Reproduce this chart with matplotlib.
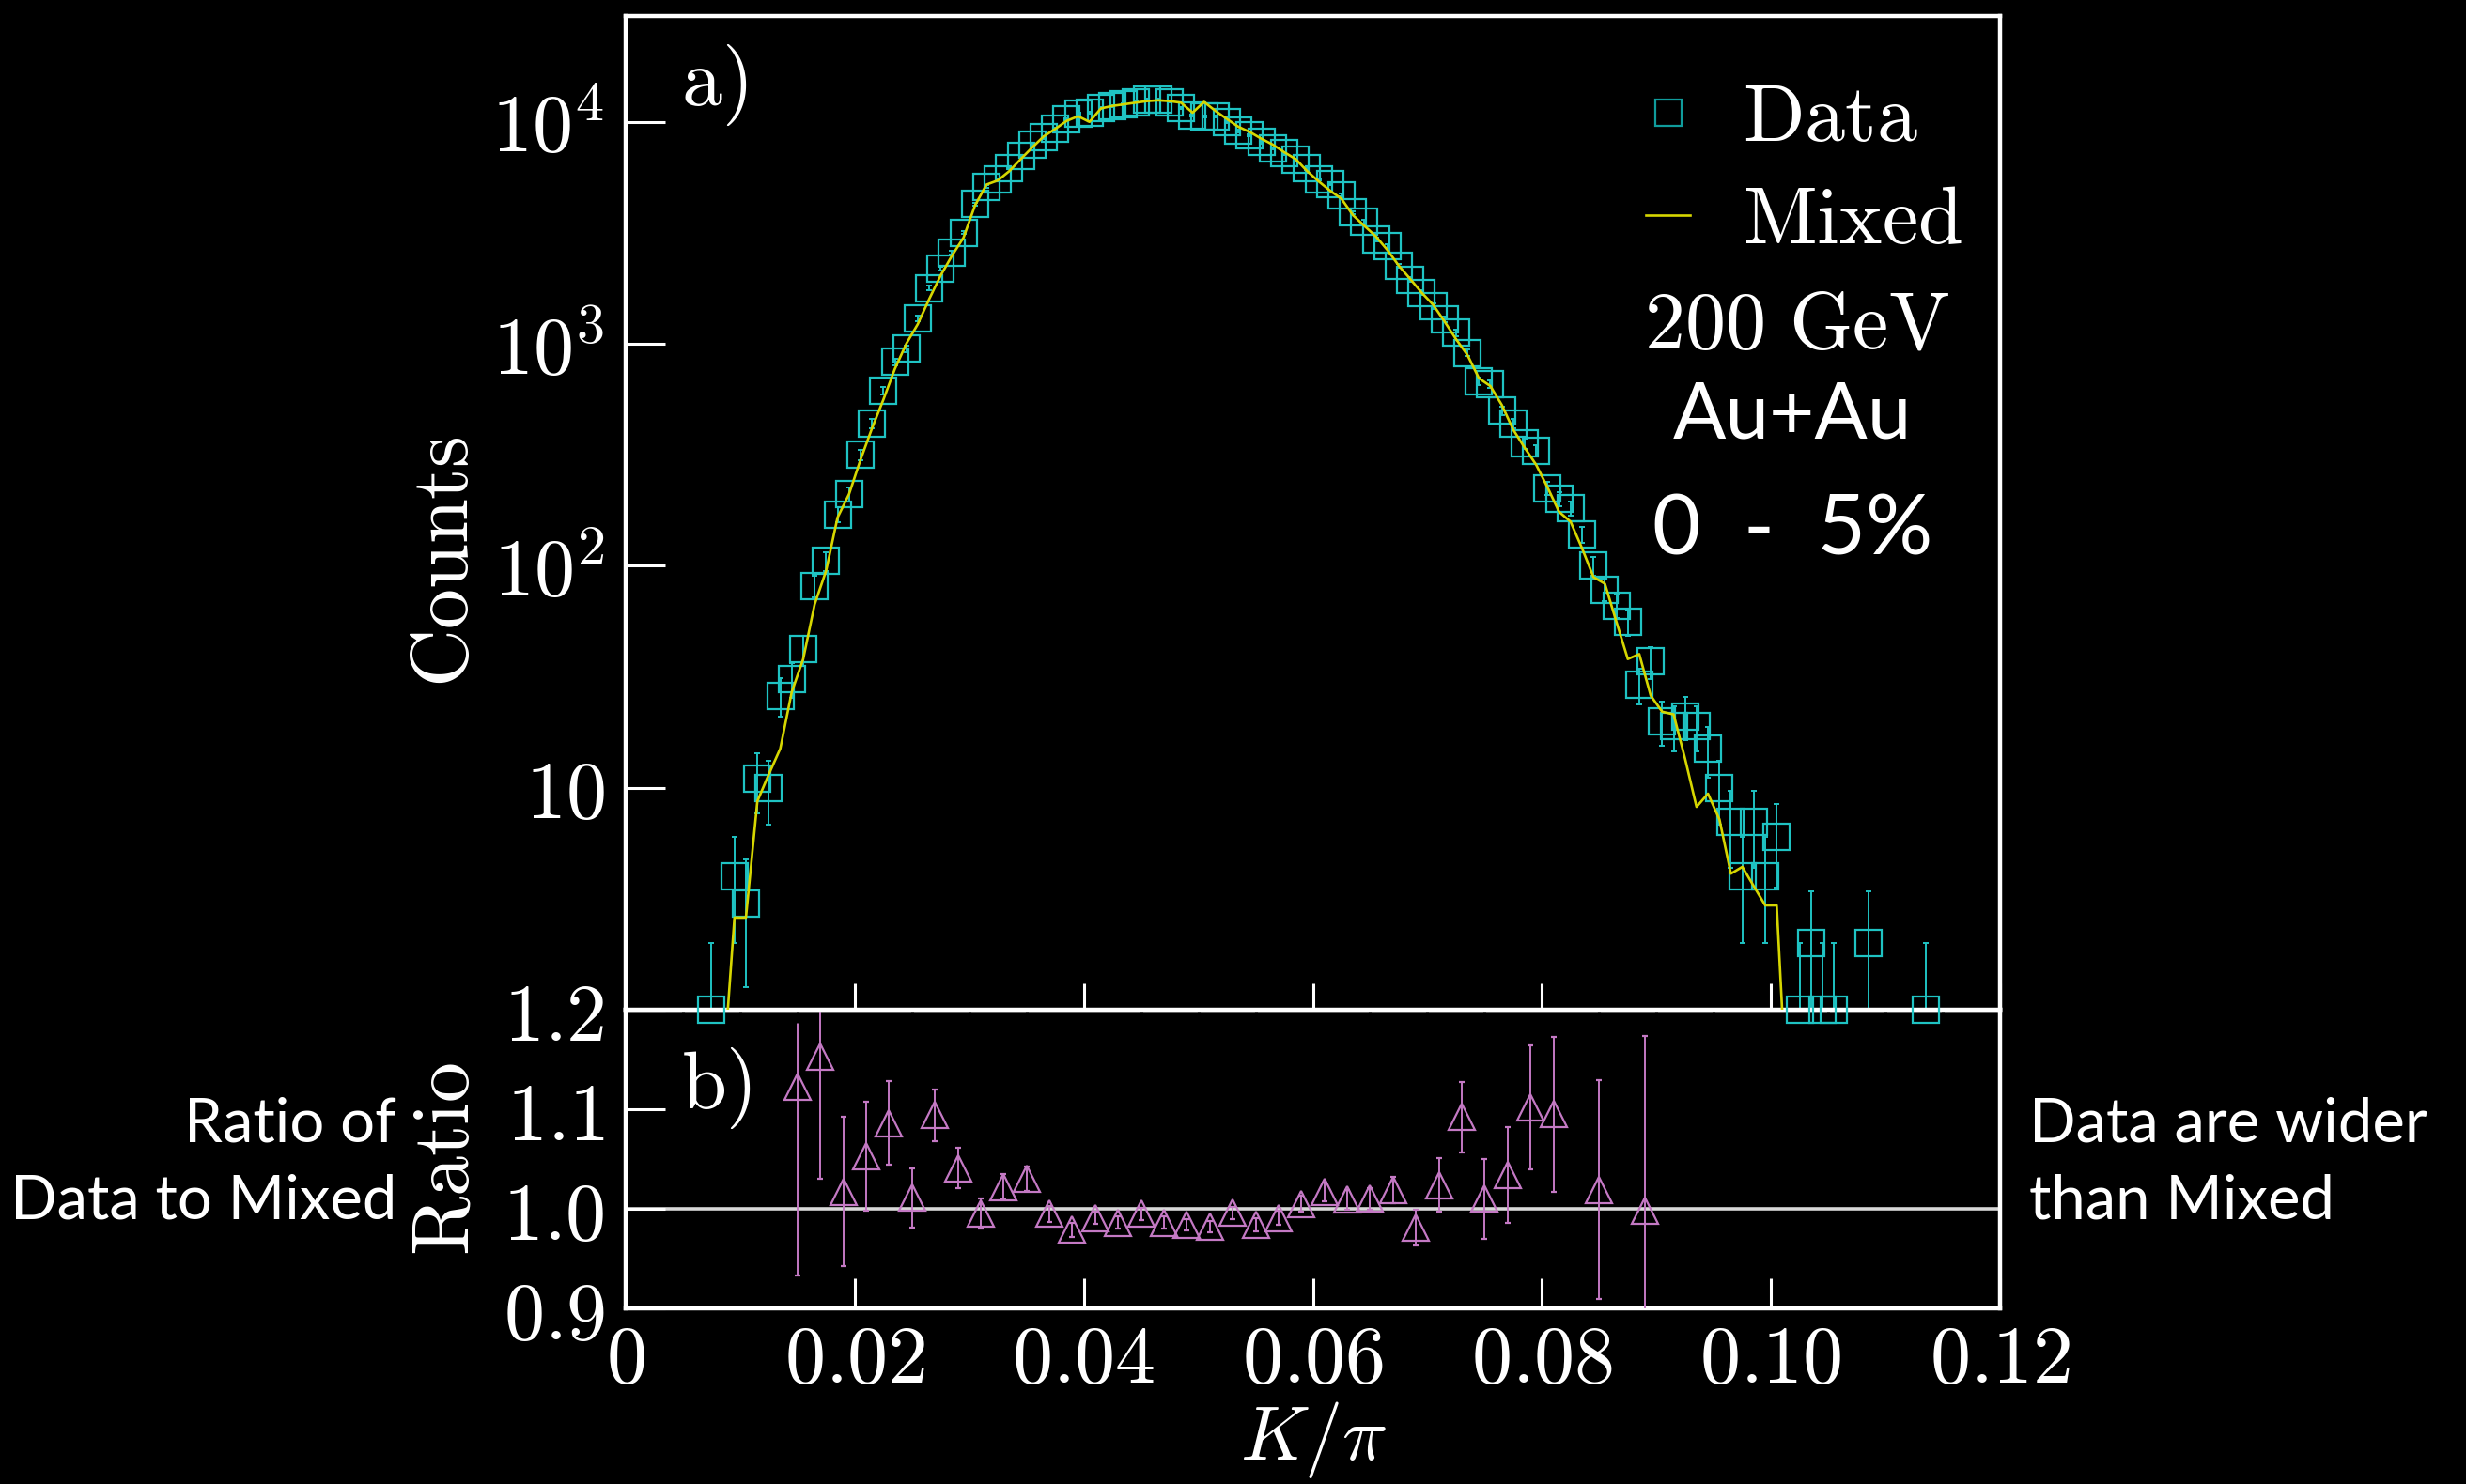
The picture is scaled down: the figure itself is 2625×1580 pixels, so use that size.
import numpy as np
import matplotlib
matplotlib.use('Agg')
import matplotlib.pyplot as plt
from matplotlib.lines import Line2D
from matplotlib.ticker import FixedLocator, FuncFormatter, NullFormatter

plt.rcParams['mathtext.fontset'] = 'cm'

# ---- data ----
kpi_data = [0.0075, 0.0095, 0.0105, 0.0115, 0.0125, 0.0135, 0.0145, 0.0155, 0.0165, 0.0175,
            0.0185, 0.0195, 0.0205, 0.0215, 0.0225, 0.0235, 0.0245, 0.0255, 0.0265, 0.0275,
            0.0285, 0.0295, 0.0305, 0.0315, 0.0325, 0.0335, 0.0345, 0.0355, 0.0365, 0.0375,
            0.0385, 0.0395, 0.0405, 0.0415, 0.0425, 0.0435, 0.0445, 0.0455, 0.0465, 0.0475,
            0.0485, 0.0495, 0.0505, 0.0515, 0.0525, 0.0535, 0.0545, 0.0555, 0.0565, 0.0575,
            0.0585, 0.0595, 0.0605, 0.0615, 0.0625, 0.0635, 0.0645, 0.0655, 0.0665, 0.0675,
            0.0685, 0.0695, 0.0705, 0.0715, 0.0725, 0.0735, 0.0745, 0.0755, 0.0765, 0.0775,
            0.0785, 0.0795, 0.0805, 0.0815, 0.0825, 0.0835, 0.0845, 0.0855, 0.0865, 0.0875,
            0.0885, 0.0895, 0.0905, 0.0915, 0.0925, 0.0935, 0.0945, 0.0955, 0.0965, 0.0975,
            0.0985, 0.0995, 0.1005, 0.1025, 0.1035, 0.1045, 0.1055, 0.1085, 0.1135]
counts_data = [1, 4, 3, 11, 10, 26, 31, 42, 81, 105,
               170, 210, 316, 437, 615, 830, 950, 1300, 1780, 2180,
               2570, 3170, 4270, 5100, 5500, 6200, 7000, 7900, 8500, 9300,
               10300, 10900, 11000, 11500, 11750, 12000, 12300, 12600, 12600, 12300,
               11500, 10700, 10600, 10600, 10000, 9100, 8700, 8100, 7600, 7200,
               6760, 6170, 5500, 5250, 4680, 3900, 3550, 2950, 2750, 2240,
               1950, 1700, 1480, 1290, 1120, 912, 676, 660, 500, 436,
               355, 330, 224, 200, 182, 138, 100, 78, 66, 56,
               29, 37, 20, 19, 21, 19, 15, 10, 7, 4,
               7, 4, 6, 1, 2, 1, 1, 2, 1]

kpi_mixed = [0.0085, 0.0095, 0.0105, 0.0115, 0.0125, 0.0135, 0.0145, 0.0155, 0.0165, 0.0175,
             0.0185, 0.0195, 0.0205, 0.0215, 0.0225, 0.0235, 0.0245, 0.0255, 0.0265, 0.0275,
             0.0285, 0.0295, 0.0305, 0.0315, 0.0325, 0.0335, 0.0345, 0.0355, 0.0365, 0.0375,
             0.0385, 0.0395, 0.0405, 0.0415, 0.0425, 0.0435, 0.0445, 0.0455, 0.0465, 0.0475,
             0.0485, 0.0495, 0.0505, 0.0515, 0.0525, 0.0535, 0.0545, 0.0555, 0.0565, 0.0575,
             0.0585, 0.0595, 0.0605, 0.0615, 0.0625, 0.0635, 0.0645, 0.0655, 0.0665, 0.0675,
             0.0685, 0.0695, 0.0705, 0.0715, 0.0725, 0.0735, 0.0745, 0.0755, 0.0765, 0.0775,
             0.0785, 0.0795, 0.0805, 0.0815, 0.0825, 0.0835, 0.0845, 0.0855, 0.0865, 0.0875,
             0.0885, 0.0895, 0.0905, 0.0915, 0.0925, 0.0935, 0.0945, 0.0955, 0.0965, 0.0975,
             0.0985, 0.0995, 0.1005, 0.1015]
counts_mixed = [0.5, 2.6, 2.6, 8.7, 11.5, 15, 27, 38, 67, 95,
                165, 210, 300, 415, 560, 770, 1000, 1225, 1590, 2030,
                2500, 3010, 4200, 5215, 5450, 6000, 6800, 7670, 8600, 9290,
                10100, 10600, 10000, 11500, 11800, 12000, 12200, 12400, 12500, 12400,
                12200, 11000, 12300, 11200, 10300, 9500, 9000, 8400, 7900, 7300,
                6800, 6000, 5400, 4900, 4500, 3800, 3400, 3050, 2650, 2250,
                1960, 1700, 1500, 1260, 1050, 890, 700, 645, 530, 410,
                340, 285, 225, 175, 158, 120, 89, 83, 56, 38,
                40, 26, 22, 21.4, 13.5, 8.2, 9.4, 7.2, 4.1, 4.4,
                3.6, 2.95, 2.95, 0.3]

kpi_ratio = [0.015, 0.017, 0.019, 0.021, 0.023, 0.025, 0.027, 0.029, 0.031, 0.033,
             0.035, 0.037, 0.039, 0.041, 0.043, 0.045, 0.047, 0.049, 0.051, 0.053,
             0.055, 0.057, 0.059, 0.061, 0.063, 0.065, 0.067, 0.069, 0.071, 0.073,
             0.075, 0.077, 0.079, 0.081, 0.085, 0.089]
ratio = [1.123, 1.153, 1.017, 1.053, 1.086, 1.011, 1.094, 1.041, 0.995, 1.022,
         1.030, 0.995, 0.979, 0.991, 0.986, 0.995, 0.986, 0.984, 0.982, 0.996,
         0.984, 0.991, 1.005, 1.017, 1.009, 1.010, 1.019, 0.981, 1.024, 1.092,
         1.010, 1.034, 1.102, 1.095, 1.019, 0.998]
ratio_err = [0.19, 0.123, 0.075, 0.055, 0.042, 0.03, 0.026, 0.02, 0.015, 0.013,
             0.012, 0.008, 0.007, 0.006, 0.006, 0.006, 0.006, 0.006, 0.006, 0.006,
             0.007, 0.007, 0.008, 0.009, 0.01, 0.011, 0.013, 0.018, 0.027, 0.035,
             0.04, 0.048, 0.062, 0.078, 0.11, 0.176]

count_ticks = [1, 10, 100, 1000, 10000]
count_labels = ['', r'$10$', r'$10^2$', r'$10^3$', r'$10^4$']
ratio_ticks = [0.9, 1.0, 1.1, 1.2]

# ---- style ----
CYAN = '#1fc3c3'
CYAN_LEG = '#109c9c'
YELLOW = '#d6d600'
VIOLET = '#c479c4'
FS = 62

fig = plt.figure(figsize=(26.25, 15.8), dpi=100, facecolor='black')
W, H = 2625.0, 1580.0
def frac_box(x0, y0, x1, y1):
    return [x0 / W, 1 - y1 / H, (x1 - x0) / W, (y1 - y0) / H]

ax_r = fig.add_axes(frac_box(666, 1075, 2129, 1393))
ax = fig.add_axes(frac_box(666, 17, 2129, 1075), sharex=ax_r)
ax.set_zorder(3)

for a in (ax, ax_r):
    a.set_facecolor('black')
    for s in a.spines.values():
        s.set_color('white')
        s.set_linewidth(3.2)
    a.tick_params(colors='white', direction='in', width=2.2, labelsize=FS)

# top panel
kd = np.array(kpi_data)
cd = np.array(counts_data, dtype=float)
ax.errorbar(kd, cd, yerr=np.sqrt(cd), fmt='none', ecolor=CYAN, elinewidth=1.4,
            capsize=2.5, capthick=1.4, zorder=2)
ax.plot(kd, cd, 's', ms=20, mfc='none', mec=CYAN, mew=1.6, clip_on=False, zorder=3)
ax.plot(kpi_mixed, counts_mixed, color=YELLOW, lw=1.9, zorder=4)

ax.set_yscale('log')
ax.set_ylim(1, 3.0e4)
ax.set_xlim(0, 0.12)
ax.yaxis.set_major_locator(FixedLocator(count_ticks))
ax.yaxis.set_major_formatter(FuncFormatter(lambda v, p: count_labels[count_ticks.index(v)] if v in count_ticks else ''))
ax.yaxis.set_minor_locator(FixedLocator([m * d for d in (1, 10, 100, 1000, 10000) for m in range(2, 10)]))
ax.yaxis.set_minor_formatter(NullFormatter())
ax.tick_params(axis='y', which='major', length=30, pad=16)
ax.tick_params(axis='y', which='minor', length=14, width=2.2)
ax.tick_params(axis='x', which='major', length=20, labelbottom=False)
ax.tick_params(axis='x', which='minor', length=10, width=2.2)

ax.text(0.040, 0.973, r'$\mathrm{a)}$', color='white', fontsize=FS, transform=ax.transAxes,
        ha='left', va='top')
ax.text(0.852, 0.666, r'$\mathrm{200\ GeV}$', color='white', fontsize=FS, transform=ax.transAxes,
        ha='center', va='baseline')
ax.text(0.849, 0.575, 'Au+Au', color='white', fontsize=60, family='Lato', transform=ax.transAxes,
        ha='center', va='baseline')
ax.text(0.849, 0.458, '0  -  5%', color='white', fontsize=64, family='Lato', transform=ax.transAxes,
        ha='center', va='baseline')

handles = [Line2D([], [], ls='none', marker='s', ms=20, mfc='none', mec=CYAN_LEG, mew=1.6),
           Line2D([], [], color=YELLOW, lw=1.9)]
ax.legend(handles, [r'$\mathrm{Data}$', r'$\mathrm{Mixed}$'], loc='upper left',
          bbox_to_anchor=(1752 / W, 1 - 85 / H), bbox_transform=fig.transFigure,
          frameon=False, fontsize=FS, labelcolor='white', handlelength=0.55,
          handletextpad=0.65, labelspacing=0.3, borderpad=0, borderaxespad=0)

# ratio panel
ax_r.axhline(1.0, color='#d8d8d8', lw=2.6, zorder=1)
ax_r.errorbar(kpi_ratio, ratio, yerr=ratio_err, fmt='^', ms=20, mfc='none', mec=VIOLET, mew=1.6,
              ecolor=VIOLET, elinewidth=1.4, capsize=2.5, capthick=1.4, zorder=3)
ax_r.set_ylim(0.9, 1.2)
ax_r.yaxis.set_major_locator(FixedLocator(ratio_ticks))
ax_r.yaxis.set_minor_locator(FixedLocator([0.95, 1.05, 1.15]))
ax_r.yaxis.set_major_formatter(FuncFormatter(lambda v, p: r'$%.1f$' % v))
ax_r.tick_params(axis='y', which='both', length=30, width=2.2, pad=16)
ax_r.xaxis.set_major_locator(FixedLocator([0, 0.02, 0.04, 0.06, 0.08, 0.10, 0.12]))
ax_r.xaxis.set_minor_locator(FixedLocator([i * 0.005 for i in range(25)]))
ax_r.xaxis.set_major_formatter(FuncFormatter(lambda v, p: r'$0$' if v == 0 else r'$%.2f$' % v))
ax_r.tick_params(axis='x', which='major', length=23, pad=10)
ax_r.tick_params(axis='x', which='minor', length=12, width=2.2)
ax_r.text(0.040, 0.877, r'$\mathrm{b)}$', color='white', fontsize=FS, transform=ax_r.transAxes,
          ha='left', va='top')

# axis titles
fig.text(475 / W, 1 - 598 / H, r'$\mathrm{Counts}$', color='white', fontsize=FS,
         rotation=90, ha='center', va='center')
fig.text(475 / W, 1 - 1234 / H, r'$\mathrm{Ratio}$', color='white', fontsize=FS,
         rotation=90, ha='center', va='center')
fig.text(1398 / W, 1 - 1554 / H, r'$K/\pi$', color='white', fontsize=58,
         ha='center', va='baseline')

# side notes
note_kw = dict(color='white', fontsize=47, family='Lato')
fig.text(422 / W, 1 - 1215 / H, 'Ratio of', ha='right', va='baseline', **note_kw)
fig.text(422 / W, 1 - 1297 / H, 'Data to Mixed', ha='right', va='baseline', **note_kw)
fig.text(2160 / W, 1 - 1215 / H, 'Data are wider', ha='left', va='baseline', **note_kw)
fig.text(2160 / W, 1 - 1297 / H, 'than Mixed', ha='left', va='baseline', **note_kw)

fig.savefig('out.png', dpi=100, facecolor='black')
